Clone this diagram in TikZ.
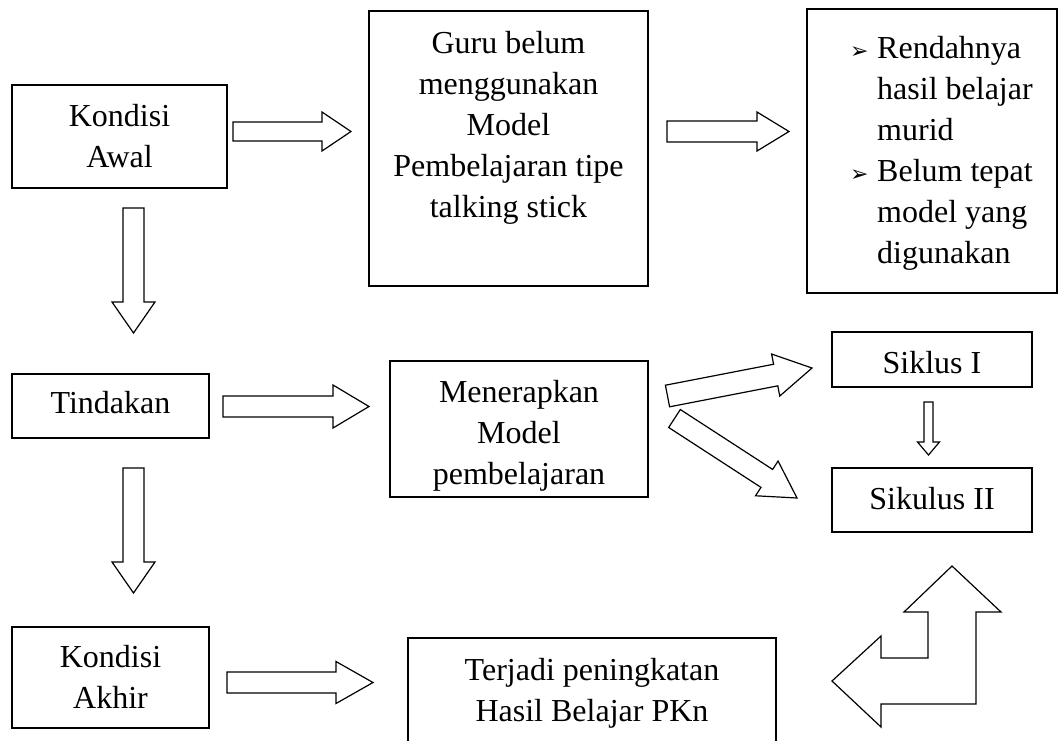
\documentclass[tikz,border=0pt]{standalone}
\usepackage{fontspec}
\setmainfont{Liberation Serif}
\newfontfamily\dv{DejaVu Sans}
\usetikzlibrary{calc}
\tikzset{
  box/.style={draw, line width=1.3pt, inner sep=0pt},
  lbl/.style={font=\fontsize{32}{41}\selectfont, align=center, inner sep=0pt},
  barrow/.style={draw, line width=1.2pt, fill=white, line join=miter},
}
% start, end, half shaft, half head, head length
\newcommand\blockarr[5]{%
  \coordinate (hb) at ($(#2)!#5!(#1)$);
  \draw[barrow] ($(#1)!#3!90:(#2)$) -- ($(hb)!#3!90:(#2)$) -- ($(hb)!#4!90:(#2)$)
    -- (#2) -- ($(hb)!#4!-90:(#2)$) -- ($(hb)!#3!-90:(#2)$) -- ($(#1)!#3!-90:(#2)$) -- cycle;
}
\newcommand\bul{\makebox[27pt][l]{\dv\fontsize{22}{22}\selectfont ➢}}
\begin{document}
\begin{tikzpicture}[x=1pt,y=-1pt]
\useasboundingbox (0,0) rectangle (1058,740);
\fill[white] (0,0) rectangle (1058,740);

% boxes
\node[box, minimum width=215pt, minimum height=103pt] (kawal) at (119.5,136.5) {};
\node[box, minimum width=279pt, minimum height=275pt] (guru) at (508.5,148.5) {};
\node[box, minimum width=250pt, minimum height=284pt] (masalah) at (932,151) {};
\node[box, minimum width=197pt, minimum height=64pt] (tindakan) at (110.5,406) {};
\node[box, minimum width=258pt, minimum height=136pt] (terapkan) at (519,429) {};
\node[box, minimum width=200pt, minimum height=55pt] (siklus1) at (932,359.5) {};
\node[box, minimum width=200pt, minimum height=64pt] (siklus2) at (932,500) {};
\node[box, minimum width=197pt, minimum height=101pt] (kakhir) at (110.5,677.5) {};
\node[box, minimum width=368pt, minimum height=122pt] (terjadi) at (592,699) {};

% texts
\node[lbl] (t-kawal) at (119.5,136.5) {Kondisi\\Awal};
\node[lbl] (t-guru) at (508.5,128) {Guru belum\\menggunakan\\Model\\Pembelajaran tipe\\talking stick};
\node[lbl, anchor=base west] (t-m1) at (850,58) {\bul Rendahnya};
\node[lbl, anchor=base west] (t-m2) at (850,99) {\hspace*{27pt}hasil belajar};
\node[lbl, anchor=base west] (t-m3) at (850,140) {\hspace*{27pt}murid};
\node[lbl, anchor=base west] (t-m4) at (850,181) {\bul Belum tepat};
\node[lbl, anchor=base west] (t-m5) at (850,222) {\hspace*{27pt}model yang};
\node[lbl, anchor=base west] (t-m6) at (850,263) {\hspace*{27pt}digunakan};
\node[lbl, anchor=base] (t-tind) at (110.5,413) {Tindakan};
\node[lbl] (t-terap) at (519,435.5) {Menerapkan\\Model\\pembelajaran};
\node[lbl, anchor=base] (t-s1) at (932,373) {Siklus I};
\node[lbl, anchor=base] (t-s2) at (932,509) {Sikulus II};
\node[lbl] (t-kakhir) at (110.5,677) {Kondisi\\Akhir};
\node[lbl] (t-terjadi) at (592,693) {Terjadi peningkatan\\Hasil Belajar PKn};

% arrow end points
\coordinate (a1s) at (233,131.5);   \coordinate (a1e) at (351,131.5);
\coordinate (a2s) at (667,131.5);   \coordinate (a2e) at (789,131.5);
\coordinate (a3s) at (133.5,208);   \coordinate (a3e) at (133.5,333);
\coordinate (a4s) at (223,406.5);   \coordinate (a4e) at (369,406.5);
\coordinate (a5s) at (133.5,468);   \coordinate (a5e) at (133.5,593);
\coordinate (a6s) at (227,682.5);   \coordinate (a6e) at (373,682.5);
\coordinate (a7s) at (667.5,396);   \coordinate (a7e) at (812,368);
\coordinate (a8s) at (674.5,418.5); \coordinate (a8e) at (797,498);
\coordinate (a9s) at (928.5,402);   \coordinate (a9e) at (928.5,455);

\blockarr{a1s}{a1e}{9.5pt}{19.5pt}{29pt}
\blockarr{a2s}{a2e}{10.5pt}{19.5pt}{32pt}
\blockarr{a3s}{a3e}{10.5pt}{21.5pt}{31pt}
\blockarr{a4s}{a4e}{10.5pt}{21.5pt}{36pt}
\blockarr{a5s}{a5e}{10.5pt}{21.5pt}{31pt}
\blockarr{a6s}{a6e}{10.5pt}{21pt}{37pt}
\blockarr{a7s}{a7e}{11pt}{21.4pt}{37pt}
\blockarr{a8s}{a8e}{10.7pt}{20.7pt}{36pt}
\blockarr{a9s}{a9e}{4.5pt}{11pt}{13pt}

% bent arrow
\draw[barrow] (952,566) -- (1001,612) -- (976,612) -- (976,704) -- (881,704)
  -- (881,727) -- (832,681) -- (881,636) -- (881,658) -- (928,658)
  -- (928,612) -- (904,612) -- cycle;
\end{tikzpicture}
\end{document}
